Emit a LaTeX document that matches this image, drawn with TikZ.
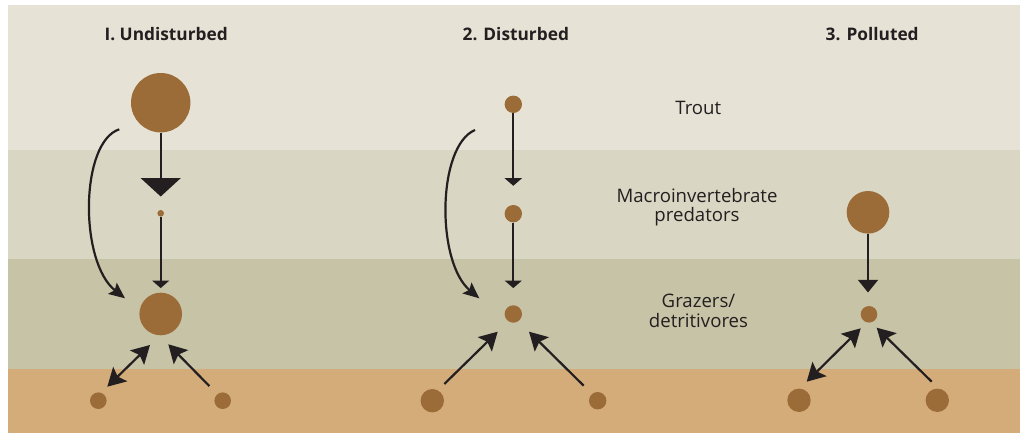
\documentclass[tikz,border=0pt]{standalone}
\usepackage{fontspec}
\setmainfont{Open Sans}
\usetikzlibrary{arrows.meta}
\definecolor{bgA}{HTML}{E6E3D6}
\definecolor{bgB}{HTML}{D9D6C3}
\definecolor{bgC}{HTML}{C7C3A6}
\definecolor{sed}{HTML}{D4AC7A}
\definecolor{org}{HTML}{9B6B38}
\definecolor{ink}{HTML}{231F20}
\tikzset{
  orgn/.style={circle,fill=org,draw=none,inner sep=0pt,minimum size=#1},
  conn/.style={draw=ink,line width=2.2pt},
  title/.style={anchor=base,text=ink,font={\fontsize{17.3}{20}\selectfont\bfseries}},
  lbl/.style={anchor=base,text=ink,align=center,font={\fontsize{18.6}{19.7}\selectfont}},
  smallhead/.style={-{Triangle[length=7.6pt,width=17pt]}},
  midhead/.style={-{Triangle[length=12.7pt,width=20pt]}},
  bighead/.style={-{Triangle[length=18.4pt,width=39.7pt]}},
  curvehead/.style={-{Stealth[length=16pt,width=14pt,inset=3pt]}},
  diaghead/.style={-{Stealth[length=18pt,width=20pt,inset=3.5pt]}},
  dblhead/.style={{Stealth[length=18pt,width=20pt,inset=3.5pt]}-{Stealth[length=18pt,width=20pt,inset=3.5pt]}}
}
\begin{document}
\begin{tikzpicture}[x=1pt,y=-1pt]
\useasboundingbox (0,0) rectangle (1020,433);
\fill[white] (0,0) rectangle (1020,433);
\fill[bgA] (8,5) rectangle (1020,150);
\fill[bgB] (8,150) rectangle (1020,259);
\fill[bgC] (8,259) rectangle (1020,369);
\fill[sed] (8,369) rectangle (1020,433);

% titles
\node[title] (h1) at (166.2,41) {I. Undisturbed};
\node[title] (h2) at (515.8,41) {2. Disturbed};
\node[title] (h3) at (872.2,41) {3. Polluted};

% labels (anchor base = baseline of the last line)
\node[lbl] (lt) at (698.3,115) {Trout};
\node[lbl] (lm) at (697,221.7) {Macroinvertebrate\\predators};
\node[lbl] (lg) at (698.5,327.3) {Grazers/\\detritivores};

% column 1
\node[orgn=59.4pt] (T1) at (160.7,102.7) {};
\node[orgn=6.6pt] (M1) at (160.7,213.3) {};
\node[orgn=42.6pt] (G1) at (160.7,314) {};
\node[orgn=16.6pt] (B1a) at (98.3,400.7) {};
\node[orgn=16.6pt] (B1b) at (222.7,400.7) {};
\draw[conn,bighead,shorten >=13.3pt] (T1) -- (M1);
\draw[conn,smallhead,shorten >=4.4pt] (M1) -- (G1);
\coordinate (c1s) at (119.3,129.3);
\coordinate (c1e) at (125,298.3);
\draw[conn,curvehead] (c1s) .. controls (80,142) and (79,262) .. (c1e);
\coordinate (d1a) at (107.3,386.7);
\coordinate (d1b) at (150,345);
\draw[conn,dblhead] (d1a) -- (d1b);
\coordinate (d1c) at (209.3,386);
\coordinate (d1d) at (168.3,344.3);
\draw[conn,diaghead] (d1c) -- (d1d);

% column 2
\node[orgn=17.4pt] (T2) at (513.3,104.3) {};
\node[orgn=17.4pt] (M2) at (513.3,213.7) {};
\node[orgn=17.4pt] (G2) at (513.3,314) {};
\node[orgn=23.4pt] (B2a) at (432.3,400.7) {};
\node[orgn=17.4pt] (B2b) at (597.7,400.7) {};
\draw[conn,smallhead,shorten >=19pt] (T2) -- (M2);
\draw[conn,smallhead,shorten >=17pt] (M2) -- (G2);
\coordinate (c2s) at (475,130);
\coordinate (c2e) at (479.3,298.3);
\draw[conn,curvehead] (c2s) .. controls (437,146) and (436,262) .. (c2e);
\coordinate (d2a) at (444.3,384);
\coordinate (d2b) at (497.7,331.7);
\draw[conn,diaghead] (d2a) -- (d2b);
\coordinate (d2c) at (583.7,385.7);
\coordinate (d2d) at (529,331.7);
\draw[conn,diaghead] (d2c) -- (d2d);

% column 3
\node[orgn=42.6pt] (M3) at (868,212.3) {};
\node[orgn=16.6pt] (G3) at (869,314.3) {};
\node[orgn=23.4pt] (B3a) at (799,400.3) {};
\node[orgn=23.4pt] (B3b) at (937.3,400.3) {};
\draw[conn,midhead,shorten >=13.3pt] (M3) -- (M3 |- G3.north);
\coordinate (d3a) at (806.7,381.7);
\coordinate (d3b) at (860.7,328.3);
\draw[conn,dblhead] (d3a) -- (d3b);
\coordinate (d3c) at (931.7,381.7);
\coordinate (d3d) at (876.7,327.7);
\draw[conn,diaghead] (d3c) -- (d3d);
\end{tikzpicture}
\end{document}
